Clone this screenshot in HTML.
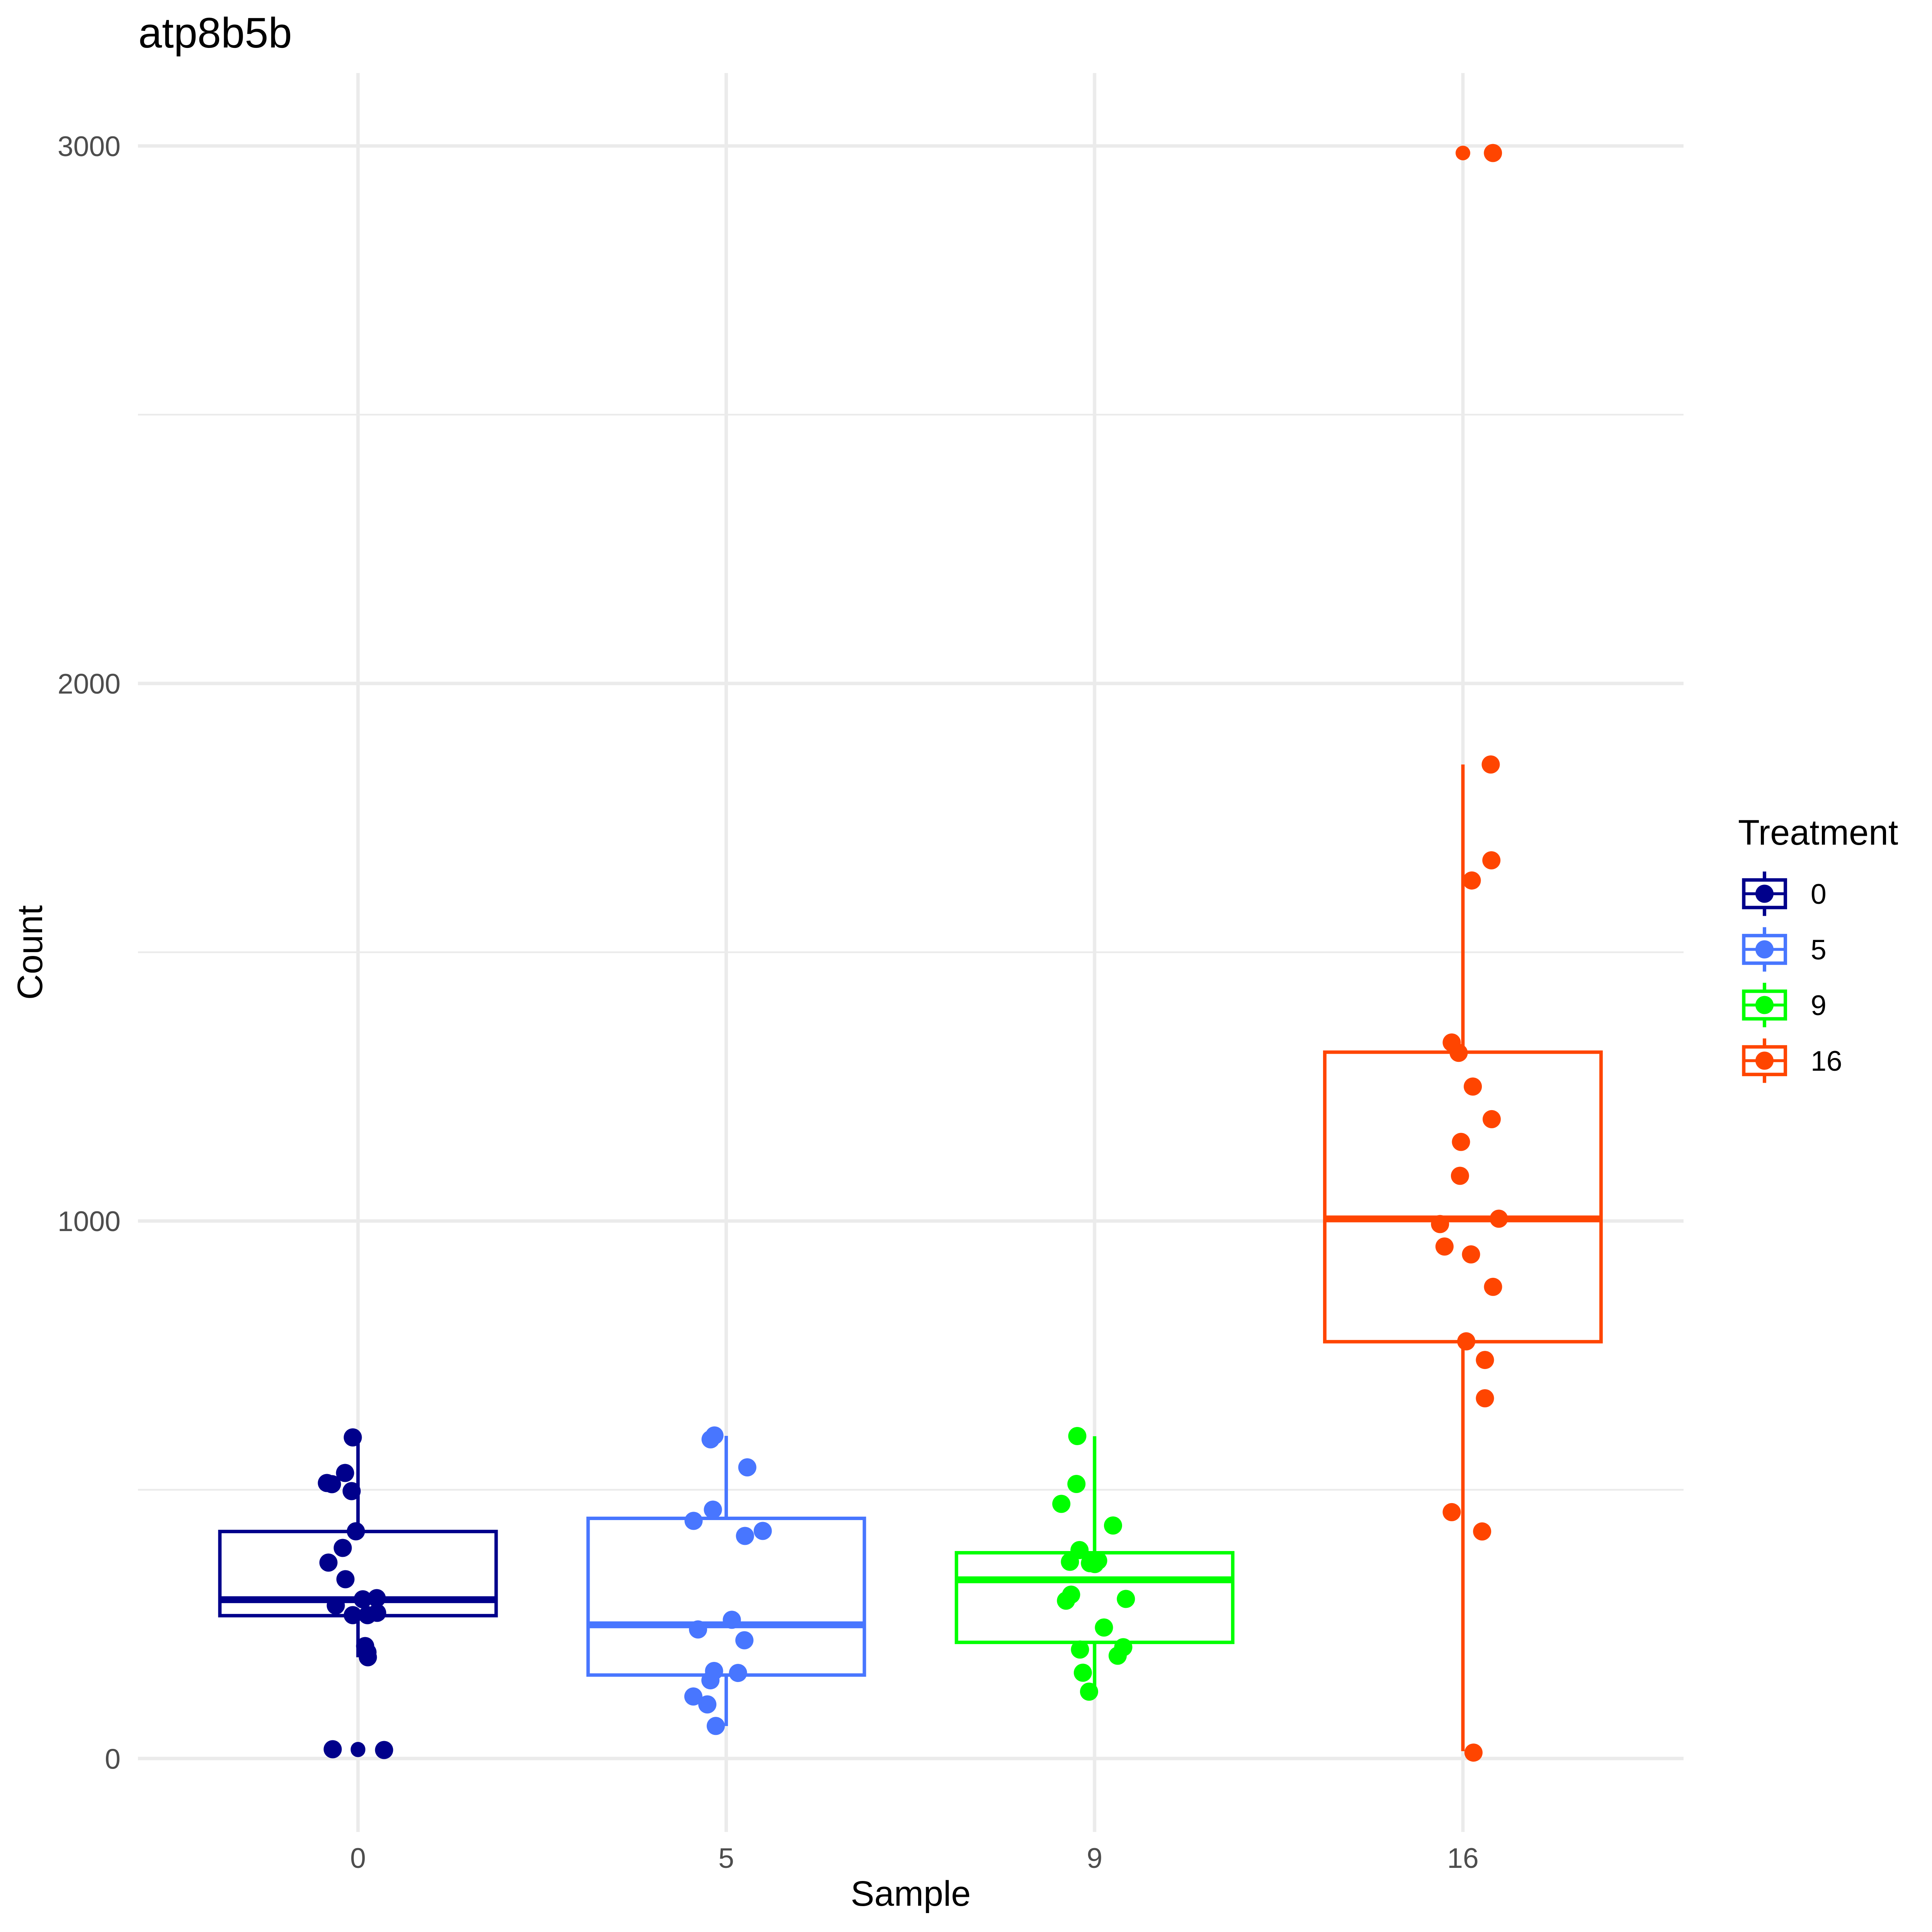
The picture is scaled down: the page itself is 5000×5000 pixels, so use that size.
<!DOCTYPE html>
<html><head><meta charset="utf-8"><style>
html,body{margin:0;padding:0;background:#fff;}
svg{display:block;}
text{font-family:"Liberation Sans",Arial,sans-serif;}
</style></head><body>
<svg width="5000" height="5000" viewBox="0 0 5000 5000" xmlns="http://www.w3.org/2000/svg">
<rect x="0" y="0" width="5000" height="5000" fill="#fff"/>
<!-- minor gridlines -->
<g stroke="#EBEBEB" stroke-width="4.4">
<line x1="357" y1="3855.5" x2="4357" y2="3855.5"/>
<line x1="357" y1="2464.4" x2="4357" y2="2464.4"/>
<line x1="357" y1="1073.2" x2="4357" y2="1073.2"/>
</g>
<!-- major gridlines -->
<g stroke="#EBEBEB" stroke-width="8.9">
<line x1="357" y1="4551" x2="4357" y2="4551"/>
<line x1="357" y1="3159.9" x2="4357" y2="3159.9"/>
<line x1="357" y1="1768.8" x2="4357" y2="1768.8"/>
<line x1="357" y1="377.7" x2="4357" y2="377.7"/>
<line x1="926.5" y1="189" x2="926.5" y2="4741"/>
<line x1="1879.5" y1="189" x2="1879.5" y2="4741"/>
<line x1="2832.8" y1="189" x2="2832.8" y2="4741"/>
<line x1="3786" y1="189" x2="3786" y2="4741"/>
</g>

<!-- boxplots -->
<!-- G0 -->
<g stroke="#00008B" fill="#00008B">
<line x1="926.5" y1="3720" x2="926.5" y2="3963.5" stroke-width="8.9"/>
<line x1="926.5" y1="4181.3" x2="926.5" y2="4289" stroke-width="8.9"/>
<rect x="569" y="3963.5" width="715" height="217.8" fill="#fff" stroke-width="8.9"/>
<line x1="569" y1="4140" x2="1284" y2="4140" stroke-width="17.8"/>
<circle cx="926.5" cy="4527" r="19" stroke="none"/>
<circle cx="926.5" cy="4528.5" r="19" stroke="none"/>
</g>
<!-- G5 -->
<g stroke="#4876FF" fill="#4876FF">
<line x1="1879.5" y1="3716" x2="1879.5" y2="3929.5" stroke-width="8.9"/>
<line x1="1879.5" y1="4335" x2="1879.5" y2="4467" stroke-width="8.9"/>
<rect x="1522" y="3929.5" width="715" height="405.5" fill="#fff" stroke-width="8.9"/>
<line x1="1522" y1="4205" x2="2237" y2="4205" stroke-width="17.8"/>
</g>
<!-- G9 -->
<g stroke="#00FF00" fill="#00FF00">
<line x1="2832.8" y1="3717" x2="2832.8" y2="4018.5" stroke-width="8.9"/>
<line x1="2832.8" y1="4250.4" x2="2832.8" y2="4369" stroke-width="8.9"/>
<rect x="2475.3" y="4018.5" width="715" height="231.9" fill="#fff" stroke-width="8.9"/>
<line x1="2475.3" y1="4088.5" x2="3190.3" y2="4088.5" stroke-width="17.8"/>
</g>
<!-- G16 -->
<g stroke="#FF4500" fill="#FF4500">
<line x1="3786" y1="1978.5" x2="3786" y2="2723" stroke-width="8.9"/>
<line x1="3786" y1="3472.3" x2="3786" y2="4532" stroke-width="8.9"/>
<rect x="3428.5" y="2723" width="715" height="749.3" fill="#fff" stroke-width="8.9"/>
<line x1="3428.5" y1="3154.5" x2="4143.5" y2="3154.5" stroke-width="17.8"/>
<circle cx="3786" cy="396" r="19" stroke="none"/>
</g>

<!-- jitter points -->
<g fill="#00008B">
<circle cx="913" cy="3720" r="23.5"/><circle cx="893" cy="3812" r="23.5"/><circle cx="846" cy="3838" r="23.5"/><circle cx="859" cy="3841" r="23.5"/><circle cx="910" cy="3859" r="23.5"/><circle cx="921" cy="3963" r="23.5"/><circle cx="887" cy="4006" r="23.5"/><circle cx="850" cy="4044" r="23.5"/><circle cx="894" cy="4087" r="23.5"/><circle cx="939" cy="4139" r="23.5"/><circle cx="975" cy="4136" r="23.5"/><circle cx="869" cy="4155" r="23.5"/><circle cx="913" cy="4180" r="23.5"/><circle cx="951" cy="4180" r="23.5"/><circle cx="976" cy="4174" r="23.5"/><circle cx="945" cy="4260" r="23.5"/><circle cx="951" cy="4276" r="23.5"/><circle cx="952" cy="4289" r="23.5"/><circle cx="861" cy="4527" r="23.5"/><circle cx="994" cy="4529" r="23.5"/>
</g>
<g fill="#4876FF">
<circle cx="1849" cy="3715" r="23.5"/><circle cx="1839" cy="3725" r="23.5"/><circle cx="1934" cy="3797.5" r="23.5"/><circle cx="1845" cy="3907" r="23.5"/><circle cx="1795" cy="3936" r="23.5"/><circle cx="1974" cy="3962" r="23.5"/><circle cx="1928" cy="3975" r="23.5"/><circle cx="1894" cy="4192" r="23.5"/><circle cx="1806.5" cy="4217" r="23.5"/><circle cx="1926.5" cy="4245" r="23.5"/><circle cx="1848" cy="4324.5" r="23.5"/><circle cx="1910" cy="4329.6" r="23.5"/><circle cx="1838.6" cy="4348.6" r="23.5"/><circle cx="1794.4" cy="4390.5" r="23.5"/><circle cx="1830.6" cy="4411" r="23.5"/><circle cx="1852.4" cy="4466.8" r="23.5"/>
</g>
<g fill="#00FF00">
<circle cx="2788" cy="3716.5" r="23.5"/><circle cx="2785.8" cy="3840.5" r="23.5"/><circle cx="2746.7" cy="3892" r="23.5"/><circle cx="2880.5" cy="3948" r="23.5"/><circle cx="2793.8" cy="4011.6" r="23.5"/><circle cx="2769" cy="4042" r="23.5"/><circle cx="2820.8" cy="4045.5" r="23.5"/><circle cx="2833.4" cy="4047.8" r="23.5"/><circle cx="2842" cy="4039" r="23.5"/><circle cx="2772" cy="4127" r="23.5"/><circle cx="2758.8" cy="4142.5" r="23.5"/><circle cx="2913.8" cy="4138" r="23.5"/><circle cx="2857" cy="4212" r="23.5"/><circle cx="2795" cy="4269" r="23.5"/><circle cx="2907" cy="4263" r="23.5"/><circle cx="2892.5" cy="4285" r="23.5"/><circle cx="2802.4" cy="4329" r="23.5"/><circle cx="2818.5" cy="4378" r="23.5"/>
</g>
<g fill="#FF4500">
<circle cx="3863.7" cy="396" r="23.5"/><circle cx="3858" cy="1978.5" r="23.5"/><circle cx="3859.7" cy="2226.5" r="23.5"/><circle cx="3809" cy="2278.7" r="23.5"/><circle cx="3757" cy="2698" r="23.5"/><circle cx="3775" cy="2724.8" r="23.5"/><circle cx="3811.6" cy="2812" r="23.5"/><circle cx="3860.5" cy="2896.4" r="23.5"/><circle cx="3781" cy="2955.3" r="23.5"/><circle cx="3778.4" cy="3043" r="23.5"/><circle cx="3879" cy="3154" r="23.5"/><circle cx="3726.8" cy="3167.9" r="23.5"/><circle cx="3738.4" cy="3226" r="23.5"/><circle cx="3807" cy="3246.4" r="23.5"/><circle cx="3864" cy="3330.4" r="23.5"/><circle cx="3794.6" cy="3471.4" r="23.5"/><circle cx="3843" cy="3519.6" r="23.5"/><circle cx="3843" cy="3618.75" r="23.5"/><circle cx="3757" cy="3913.4" r="23.5"/><circle cx="3835.7" cy="3963.4" r="23.5"/><circle cx="3813.4" cy="4535.7" r="23.5"/>
</g>

<!-- axis tick labels -->
<g font-size="73.3" fill="#4D4D4D" text-anchor="end">
<text x="312" y="4577.3">0</text>
<text x="312" y="3186.2">1000</text>
<text x="312" y="1795.1">2000</text>
<text x="312" y="404">3000</text>
</g>
<g font-size="73.3" fill="#4D4D4D" text-anchor="middle">
<text x="926.5" y="4834">0</text>
<text x="1879.5" y="4834">5</text>
<text x="2832.8" y="4834">9</text>
<text x="3786" y="4834">16</text>
</g>

<!-- axis titles -->
<text x="2357" y="4932" font-size="91.7" fill="#000" text-anchor="middle">Sample</text>
<text transform="translate(109,2465) rotate(-90)" x="0" y="0" font-size="91.7" fill="#000" text-anchor="middle">Count</text>

<!-- title -->
<text x="358" y="123" font-size="110" fill="#000">atp8b5b</text>

<!-- legend -->
<text x="4498" y="2186" font-size="91.7" fill="#000">Treatment</text>
<g stroke="#00008B" fill="#00008B">
<line x1="4566.5" y1="2255.5" x2="4566.5" y2="2370.5" stroke-width="8.9"/>
<rect x="4512.8" y="2277.3" width="107.7" height="71.4" fill="#fff" stroke-width="8.9"/>
<line x1="4512.8" y1="2313" x2="4620.5" y2="2313" stroke-width="7.6"/>
<circle cx="4566.5" cy="2313" r="23.5" stroke="none"/>
</g>
<g stroke="#4876FF" fill="#4876FF">
<line x1="4566.5" y1="2399.5" x2="4566.5" y2="2514.5" stroke-width="8.9"/>
<rect x="4512.8" y="2421.3" width="107.7" height="71.4" fill="#fff" stroke-width="8.9"/>
<line x1="4512.8" y1="2457" x2="4620.5" y2="2457" stroke-width="7.6"/>
<circle cx="4566.5" cy="2457" r="23.5" stroke="none"/>
</g>
<g stroke="#00FF00" fill="#00FF00">
<line x1="4566.5" y1="2543.5" x2="4566.5" y2="2658.5" stroke-width="8.9"/>
<rect x="4512.8" y="2565.3" width="107.7" height="71.4" fill="#fff" stroke-width="8.9"/>
<line x1="4512.8" y1="2601" x2="4620.5" y2="2601" stroke-width="7.6"/>
<circle cx="4566.5" cy="2601" r="23.5" stroke="none"/>
</g>
<g stroke="#FF4500" fill="#FF4500">
<line x1="4566.5" y1="2687.5" x2="4566.5" y2="2802.5" stroke-width="8.9"/>
<rect x="4512.8" y="2709.3" width="107.7" height="71.4" fill="#fff" stroke-width="8.9"/>
<line x1="4512.8" y1="2745" x2="4620.5" y2="2745" stroke-width="7.6"/>
<circle cx="4566.5" cy="2745" r="23.5" stroke="none"/>
</g>
<g font-size="73.3" fill="#000">
<text x="4686" y="2339">0</text>
<text x="4686" y="2483">5</text>
<text x="4686" y="2627">9</text>
<text x="4686" y="2771">16</text>
</g>
</svg>
</body></html>
